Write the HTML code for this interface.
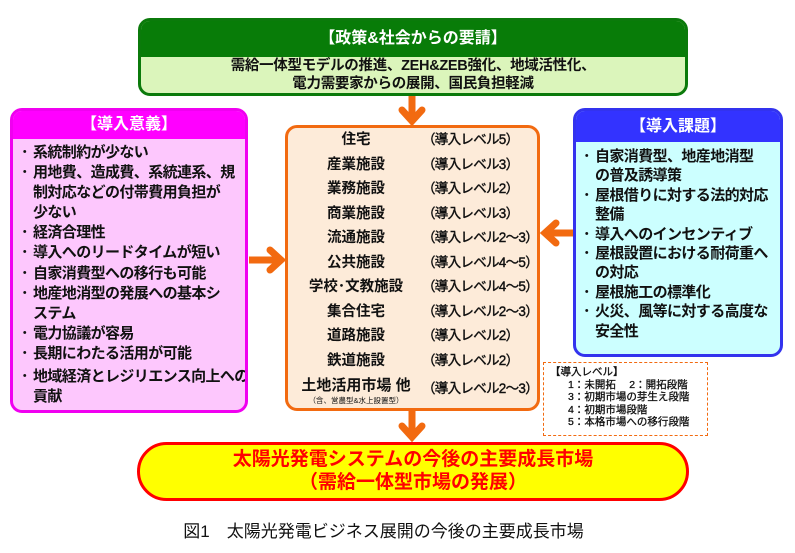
<!DOCTYPE html>
<html><head><meta charset="utf-8"><style>
*{margin:0;padding:0;box-sizing:border-box}
body{width:795px;height:553px;background:#fff;position:relative;overflow:hidden;font-family:"Liberation Sans","Noto Sans CJK JP",sans-serif;font-weight:bold;color:#111}
.a{position:absolute}
.box{position:absolute;border-radius:12px;overflow:hidden}
ul{list-style:none;white-space:nowrap}
li{position:relative;padding-left:13px}
li:before{content:"･";position:absolute;left:1px;top:0}
.row{position:absolute;left:0;width:253px;font-size:14.5px;height:24px;line-height:24px;white-space:nowrap}
.row .n{position:absolute;left:0;width:136px;text-align:center}
.row .l{position:absolute;left:134px;font-size:13.5px;letter-spacing:-0.7px;font-weight:normal;-webkit-text-stroke:.4px #111}
</style></head><body>
<svg class="a" style="left:0;top:0" width="795" height="553">
<g fill="#f26a10" stroke="#f26a10">
<line x1="412" y1="95" x2="412" y2="118" stroke-width="7"/>
<polyline points="402,110 412,121 422,110" fill="none" stroke-width="7" stroke-linecap="round"/>
<line x1="412" y1="410" x2="412" y2="434" stroke-width="7"/>
<polyline points="402,426 412,437 422,426" fill="none" stroke-width="7" stroke-linecap="round"/>
<line x1="249" y1="260" x2="278" y2="260" stroke-width="7"/>
<polyline points="270,250 281,260 270,270" fill="none" stroke-width="7" stroke-linecap="round"/>
<line x1="573" y1="233" x2="548" y2="233" stroke-width="7"/>
<polyline points="556,223 545,233 556,243" fill="none" stroke-width="7" stroke-linecap="round"/>
</g>
</svg>
<div class="box" style="left:138px;top:18px;width:550px;height:78px;border:3px solid #0b7a0b;background:#dbf5bb">
<div style="background:#087c08;color:#fff;height:36px;line-height:36px;text-align:center;font-size:16px">【政策&amp;社会からの要請】</div>
<div style="text-align:center;font-size:14.5px;line-height:18px;padding-top:0px;letter-spacing:-0.3px">需給一体型モデルの推進、ZEH&amp;ZEB強化、地域活性化、<br>電力需要家からの展開、国民負担軽減</div>
</div>
<div class="box" style="left:10px;top:108px;width:238px;height:305px;border:3px solid #f000f0;background:#fdc7fd">
<div style="background:#ff00ff;color:#fff;height:28px;line-height:28px;text-align:center;font-size:16px">【導入意義】</div>
<ul style="font-size:15px;line-height:20.1px;padding:4px 0 0 7px;letter-spacing:-0.6px">
<li>系統制約が少ない</li><li>用地費、造成費、系統連系、規<br>制対応などの付帯費用負担が<br>少ない</li><li>経済合理性</li><li>導入へのリードタイムが短い</li><li>自家消費型への移行も可能</li><li>地産地消型の発展への基本シ<br>ステム</li><li>電力協議が容易</li><li style="margin-bottom:3px">長期にわたる活用が可能</li><li>地域経済とレジリエンス向上への<br>貢献</li>
</ul></div>
<div class="box" style="left:573px;top:108px;width:210px;height:249px;border:3px solid #3333ee;background:#ccffff">
<div style="background:#3333ff;color:#fff;height:31px;line-height:31px;text-align:center;font-size:16px">【導入課題】</div>
<ul style="font-size:15px;line-height:19.4px;padding:5px 0 0 6px;letter-spacing:-0.6px">
<li>自家消費型、地産地消型<br>の普及誘導策</li><li>屋根借りに対する法的対応<br>整備</li><li>導入へのインセンティブ</li><li>屋根設置における耐荷重へ<br>の対応</li><li>屋根施工の標準化</li><li>火災、風等に対する高度な<br>安全性</li>
</ul></div>
<div class="box" style="left:285px;top:125px;width:255px;height:286px;border:3px solid #f26a10;background:#fdebd9">
<div class="row" style="top:0"><span class="n">住宅</span><span class="l">（導入レベル5）</span></div>
<div class="row" style="top:24.5px"><span class="n">産業施設</span><span class="l">（導入レベル3）</span></div>
<div class="row" style="top:49px"><span class="n">業務施設</span><span class="l">（導入レベル2）</span></div>
<div class="row" style="top:73.5px"><span class="n">商業施設</span><span class="l">（導入レベル3）</span></div>
<div class="row" style="top:98px"><span class="n">流通施設</span><span class="l">（導入レベル2～3）</span></div>
<div class="row" style="top:122.5px"><span class="n">公共施設</span><span class="l">（導入レベル4～5）</span></div>
<div class="row" style="top:147px"><span class="n">学校･文教施設</span><span class="l">（導入レベル4～5）</span></div>
<div class="row" style="top:171.5px"><span class="n">集合住宅</span><span class="l">（導入レベル2～3）</span></div>
<div class="row" style="top:196px"><span class="n">道路施設</span><span class="l">（導入レベル2）</span></div>
<div class="row" style="top:220.5px"><span class="n">鉄道施設</span><span class="l">（導入レベル2）</span></div>
<div class="row" style="top:249px"><span class="n" style="font-size:15px;line-height:18px">土地活用市場 他</span><span class="l">（導入レベル2～3）</span></div>
<div class="a" style="left:0;top:267px;width:136px;text-align:center;font-size:7.5px;font-weight:normal;white-space:nowrap">（含、営農型&amp;水上設置型）</div>
</div>
<div class="a" style="left:543px;top:362px;width:165px;height:74px;border:1.5px dashed #f26a10;font-size:10.5px;line-height:12.5px;padding:3px 0 0 6px;font-weight:normal;-webkit-text-stroke:.3px #111;white-space:nowrap">
【導入レベル】<br><span style="padding-left:18px">1：未開拓　 2：開拓段階</span><br><span style="padding-left:18px">3：初期市場の芽生え段階</span><br><span style="padding-left:18px">4：初期市場段階</span><br><span style="padding-left:18px">5：本格市場への移行段階</span></div>
<div class="a" style="left:137px;top:442px;width:552px;height:59px;border:3px solid #ff0000;border-radius:30px;background:#ffff00;color:#f00;text-align:center;font-size:19px;line-height:23px;padding-top:3px">太陽光発電システムの今後の主要成長市場<br>（需給一体型市場の発展）</div>
<div class="a" style="left:0;top:517px;width:795px;text-align:center;font-size:17px;font-weight:normal;padding-right:28px;white-space:nowrap">図1　太陽光発電ビジネス展開の今後の主要成長市場</div>
</body></html>
